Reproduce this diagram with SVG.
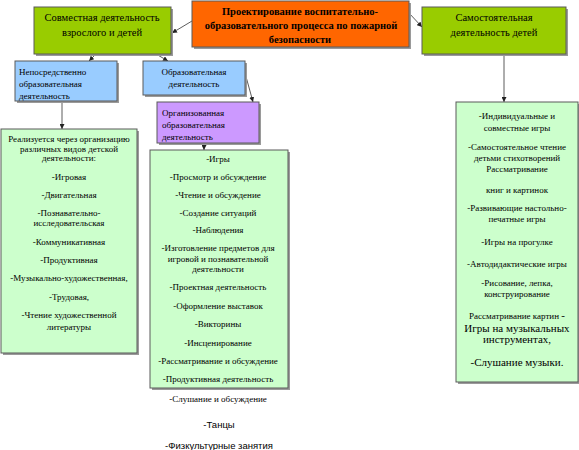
<svg xmlns="http://www.w3.org/2000/svg" width="579" height="450" viewBox="0 0 579 450">
<defs>
<marker id="ah" markerWidth="5" markerHeight="5" refX="5" refY="2.5" orient="auto" markerUnits="userSpaceOnUse">
<path d="M0,0 L5,2.5 L0,5 z" fill="#222"/>
</marker>
</defs>
<style>
.sh{fill:#9a9a9a}
.bx{stroke:#5a5a5a;stroke-width:1}
.lime{fill:#99cc00}
.orange{fill:#ff6600}
.blue{fill:#99ccff}
.purple{fill:#cc99ff}
.lg{fill:#ccffcc}
text{font-family:"Liberation Serif","Times New Roman",serif;fill:#000}
.c{text-anchor:middle}
.t10{font-size:10.5px}
.t9{font-size:9px}
.t85{font-size:9px}
.t11{font-size:11px}
.b{font-weight:bold}
.sans{font-family:"Liberation Sans",Arial,sans-serif;font-size:9.5px}
#connectors line{stroke:#333;stroke-width:0.8;fill:none;marker-end:url(#ah)}
</style>

<g id="connectors">
<line x1="192" y1="21" x2="172" y2="33"/>
<line x1="409" y1="13" x2="422" y2="27"/>
<line x1="96" y1="54" x2="89" y2="61"/>
<line x1="156" y1="54" x2="168" y2="61"/>
<line x1="245" y1="73" x2="253" y2="102"/>
<line x1="62" y1="101" x2="62" y2="129"/>
<line x1="204" y1="143" x2="204" y2="150"/>
<line x1="504" y1="54" x2="504" y2="102"/>
</g>

<g id="root">
<rect class="sh" x="194" y="3" width="217" height="46"/>
<rect class="bx orange" x="192" y="1" width="217" height="46"/>
<text class="c b t10" x="300" y="15">Проектирование воспитательно-</text>
<text class="c b t10" x="301" y="29">образовательного процесса по пожарной</text>
<text class="c b t10" x="300" y="43">безопасности</text>
</g>

<g id="joint">
<rect class="sh" x="36" y="9" width="137" height="47"/>
<rect class="bx lime" x="34" y="7" width="137" height="47"/>
<text class="c t10" x="102" y="21">Совместная деятельность</text>
<text class="c t10" x="102" y="36">взрослого и детей</text>
</g>

<g id="independent">
<rect class="sh" x="424" y="9" width="144" height="47"/>
<rect class="bx lime" x="422" y="7" width="144" height="47"/>
<text class="c t10" x="494" y="21">Самостоятельная</text>
<text class="c t10" x="494" y="36">деятельность детей</text>
</g>

<g id="direct">
<rect class="sh" x="17" y="63" width="102" height="40"/>
<rect class="bx blue" x="15" y="61" width="102" height="40"/>
<text class="t9" x="19" y="75">Непосредственно</text>
<text class="t9" x="19" y="87">образовательная</text>
<text class="t9" x="19" y="99">деятельность</text>
</g>

<g id="educational">
<rect class="sh" x="145" y="63" width="102" height="34"/>
<rect class="bx blue" x="143" y="61" width="102" height="34"/>
<text class="c t9" x="194" y="75">Образовательная</text>
<text class="c t9" x="194" y="87">деятельность</text>
</g>

<g id="organized">
<rect class="sh" x="159" y="104" width="102" height="41"/>
<rect class="bx purple" x="157" y="102" width="102" height="41"/>
<text class="t9" x="162" y="116">Организованная</text>
<text class="t9" x="162" y="128">образовательная</text>
<text class="t9" x="162" y="140">деятельность</text>
</g>

<g id="direct-list">
<rect class="sh" x="3" y="131" width="136" height="224"/>
<rect class="bx lg" x="1" y="129" width="136" height="224"/>
<g class="c t85">
<text x="69" y="142">Реализуется через  организацию</text>
<text x="69" y="152">различных видов детской</text>
<text x="69" y="161">деятельности:</text>
<text x="69" y="180">-Игровая</text>
<text x="69" y="198">-Двигательная</text>
<text x="69" y="216">-Познавательно-</text>
<text x="69" y="226">исследовательская</text>
<text x="69" y="245">-Коммуникативная</text>
<text x="69" y="263">-Продуктивная</text>
<text x="69" y="281">-Музыкально-художественная,</text>
<text x="69" y="300">-Трудовая,</text>
<text x="69" y="318">-Чтение художественной</text>
<text x="69" y="330">литературы</text>
</g>
</g>

<g id="organized-list">
<rect class="sh" x="152" y="152" width="138" height="238"/>
<rect class="bx lg" x="150" y="150" width="138" height="238"/>
<g class="c t85">
<text x="218" y="162">-Игры</text>
<text x="218" y="180">-Просмотр и обсуждение</text>
<text x="218" y="198">-Чтение и обсуждение</text>
<text x="218" y="216">-Создание ситуаций</text>
<text x="218" y="233">-Наблюдения</text>
<text x="218" y="251">-Изготовление предметов для</text>
<text x="218" y="262">игровой и познавательной</text>
<text x="218" y="272">деятельности</text>
<text x="218" y="290">-Проектная деятельность</text>
<text x="218" y="309">-Оформление выставок</text>
<text x="218" y="327">-Викторины</text>
<text x="218" y="346">-Инсценирование</text>
<text x="218" y="364">-Рассматривание и обсуждение</text>
<text x="218" y="382">-Продуктивная деятельность</text>
<text x="218" y="402">-Слушание и обсуждение</text>
</g>
<text class="c sans" x="219" y="428">-Танцы</text>
<text class="c sans" x="219" y="449">-Физкультурные занятия</text>
</g>

<g id="independent-list">
<rect class="sh" x="458" y="104" width="122" height="280"/>
<rect class="bx lg" x="456" y="102" width="122" height="280"/>
<g class="c t85">
<text x="517" y="119">-Индивидуальные и</text>
<text x="517" y="131">совместные игры</text>
<text x="517" y="150">-Самостоятельное чтение</text>
<text x="517" y="161">детьми  стихотворений</text>
<text x="517" y="172">Рассматривание</text>
<text x="517" y="193">книг и картинок</text>
<text x="517" y="211">-Развивающие настольно-</text>
<text x="517" y="222">печатные игры</text>
<text x="517" y="245">-Игры на прогулке</text>
<text x="517" y="267">-Автодидактические игры</text>
<text x="517" y="286">-Рисование, лепка,</text>
<text x="517" y="297">конструирование</text>
<text x="517" y="319">Рассматривание картин <tspan font-size="11px">-</tspan></text>
</g>
<text class="c t11" x="517" y="332">Игры на музыкальных</text>
<text class="c t11" x="517" y="343">инструментах,</text>
<text class="c t11" x="517" y="366">-Слушание музыки.</text>
</g>
</svg>
